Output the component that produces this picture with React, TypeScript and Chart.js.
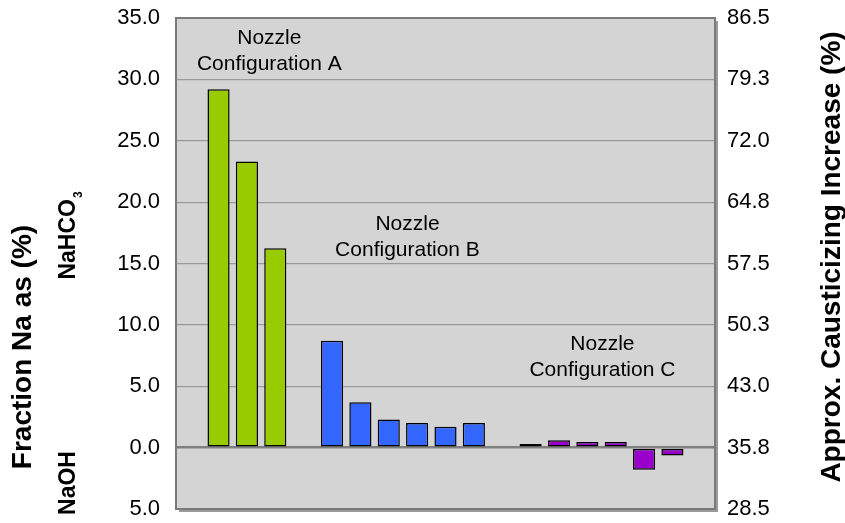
import React, { useEffect, useRef } from "react";
import { Chart, registerables } from "chart.js";

Chart.register(...registerables);

// ---- data ----
const categories = [
  "", "A1", "A2", "A3", "", "B1", "B2", "B3", "B4", "B5", "B6", "", "C1", "C2", "C3", "C4", "C5", "C6", "",
];
const configA = [29.2, 23.3, 16.25];
const configB = [8.7, 3.7, 2.3, 2.0, 1.7, 2.0];
const configC = [0.3, 0.6, 0.45, 0.45, -1.8, -0.65];
const leftTickValues = [-5, 0, 5, 10, 15, 20, 25, 30, 35];
const rightTickValues = [28.5, 35.75, 43.0, 50.25, 57.5, 64.75, 72.0, 79.25, 86.5];
const rightTickLabels = ["28.5", "35.8", "43.0", "50.3", "57.5", "64.8", "72.0", "79.3", "86.5"];
const groupLabels = [
  ["Nozzle", "Configuration A"],
  ["Nozzle", "Configuration B"],
  ["Nozzle", "Configuration C"],
];
const groupLabelX = [2.79, 7.66, 14.53];
const groupLabelY = [32.87, 17.72, 7.94];

const FONT = '"Liberation Sans", Arial, Helvetica, sans-serif';

function placeGroup(start: number, vals: number[]): (number | null)[] {
  const arr: (number | null)[] = categories.map(() => null);
  vals.forEach((v, i) => {
    arr[start + i] = v;
  });
  return arr;
}

const decorPlugin = {
  id: "decor",
  beforeDraw(chart: any) {
    const { ctx, chartArea: a } = chart;
    ctx.save();
    ctx.fillStyle = "#9a9a9a";
    ctx.fillRect(a.left + 3, a.top + 3, a.right - a.left, a.bottom - a.top);
    ctx.fillStyle = "#d4d4d4";
    ctx.fillRect(a.left, a.top, a.right - a.left, a.bottom - a.top);
    ctx.restore();
  },
  afterDraw(chart: any) {
    const { ctx, chartArea: a, scales } = chart;
    ctx.save();
    ctx.strokeStyle = "#7a7a7a";
    ctx.lineWidth = 2;
    ctx.strokeRect(a.left, a.top, a.right - a.left, a.bottom - a.top);

    ctx.fillStyle = "#000";
    ctx.font = `21px ${FONT}`;
    ctx.textAlign = "center";
    ctx.textBaseline = "alphabetic";
    groupLabels.forEach((lines, gi) => {
      const x = scales.x.getPixelForValue(groupLabelX[gi]);
      const y = scales.y.getPixelForValue(groupLabelY[gi]);
      lines.forEach((t, li) => ctx.fillText(t, x, y + li * 26));
    });

    const rot = (cx: number, cy: number, fn: () => void) => {
      ctx.save();
      ctx.translate(cx, cy);
      ctx.rotate(-Math.PI / 2);
      fn();
      ctx.restore();
    };
    rot(23, 347, () => {
      ctx.font = `bold 28px ${FONT}`;
      ctx.textAlign = "center";
      ctx.textBaseline = "middle";
      ctx.fillText("Fraction Na as (%)", 0, 0);
    });
    rot(66, 236, () => {
      ctx.font = `bold 23px ${FONT}`;
      const w1 = ctx.measureText("NaHCO").width;
      ctx.font = `bold 12px ${FONT}`;
      const w2 = ctx.measureText("3").width;
      const start = -(w1 + w2) / 2;
      ctx.textAlign = "left";
      ctx.textBaseline = "alphabetic";
      ctx.font = `bold 23px ${FONT}`;
      ctx.fillText("NaHCO", start, 9);
      ctx.font = `bold 12px ${FONT}`;
      ctx.fillText("3", start + w1 + 1, 16);
    });
    rot(66, 483, () => {
      ctx.font = `bold 23px ${FONT}`;
      ctx.textAlign = "center";
      ctx.textBaseline = "alphabetic";
      ctx.fillText("NaOH", 0, 9);
    });
    rot(832, 257, () => {
      ctx.font = `bold 28px ${FONT}`;
      ctx.textAlign = "center";
      ctx.textBaseline = "middle";
      ctx.fillText("Approx. Causticizing Increase (%)", 0, 0);
    });
    ctx.restore();
  },
};

export default function App() {
  const ref = useRef<HTMLCanvasElement | null>(null);
  useEffect(() => {
    if (!ref.current) return;
    const common = {
      borderColor: "#000",
      borderWidth: 1.5,
      borderSkipped: false,
      categoryPercentage: 1,
      barPercentage: 0.78,
      yAxisID: "y",
    };
    const chart = new Chart(ref.current, {
      type: "bar",
      data: {
        labels: categories,
        datasets: [
          { ...common, label: "A", data: placeGroup(1, configA), backgroundColor: "#99cc00" },
          { ...common, label: "B", data: placeGroup(5, configB), backgroundColor: "#3366ff" },
          { ...common, label: "C", data: placeGroup(12, configC), backgroundColor: "#9900cc" },
        ] as any,
      },
      options: {
        animation: false,
        responsive: false,
        devicePixelRatio: 1,
        grouped: false,
        layout: { padding: { top: 18, bottom: 14, left: 0, right: 0 } },
        plugins: { legend: { display: false }, tooltip: { enabled: false } },
        scales: {
          x: { display: false, offset: true },
          y: {
            position: "left",
            min: -5,
            max: 35,
            afterBuildTicks: (s: any) => {
              s.ticks = leftTickValues.map((v) => ({ value: v }));
            },
            afterFit: (s: any) => {
              s.width = 176;
              s.paddingTop = 0;
              s.paddingBottom = 0;
            },
            border: { display: false },
            grid: {
              drawTicks: false,
              color: (c: any) =>
                c.tick && (c.tick.value === -5 || c.tick.value === 35)
                  ? "rgba(0,0,0,0)"
                  : c.tick && c.tick.value === 0
                  ? "#7f7f7f"
                  : "#9a9a9a",
              lineWidth: (c: any) => (c.tick && c.tick.value === 0 ? 2.5 : 1.2),
            },
            ticks: {
              padding: 16,
              color: "#000",
              font: { family: FONT, size: 22 },
              callback: (v: any) => Math.abs(Number(v)).toFixed(1),
            },
          },
          y1: {
            position: "right",
            min: 28.5,
            max: 86.5,
            afterBuildTicks: (s: any) => {
              s.ticks = rightTickValues.map((v) => ({ value: v }));
            },
            afterFit: (s: any) => {
              s.width = 130;
              s.paddingTop = 0;
              s.paddingBottom = 0;
            },
            border: { display: false },
            grid: { display: false, drawTicks: false },
            ticks: {
              padding: 12,
              color: "#000",
              font: { family: FONT, size: 22 },
              callback: (_v: any, i: number) => rightTickLabels[i],
            },
          },
        },
      } as any,
      plugins: [decorPlugin],
    });
    return () => chart.destroy();
  }, []);
  return (
    <div style={{ position: "absolute", left: 0, top: 0, width: 845, height: 523, background: "#fff" }}>
      <canvas ref={ref} width={845} height={523} style={{ display: "block" }} />
    </div>
  );
}
